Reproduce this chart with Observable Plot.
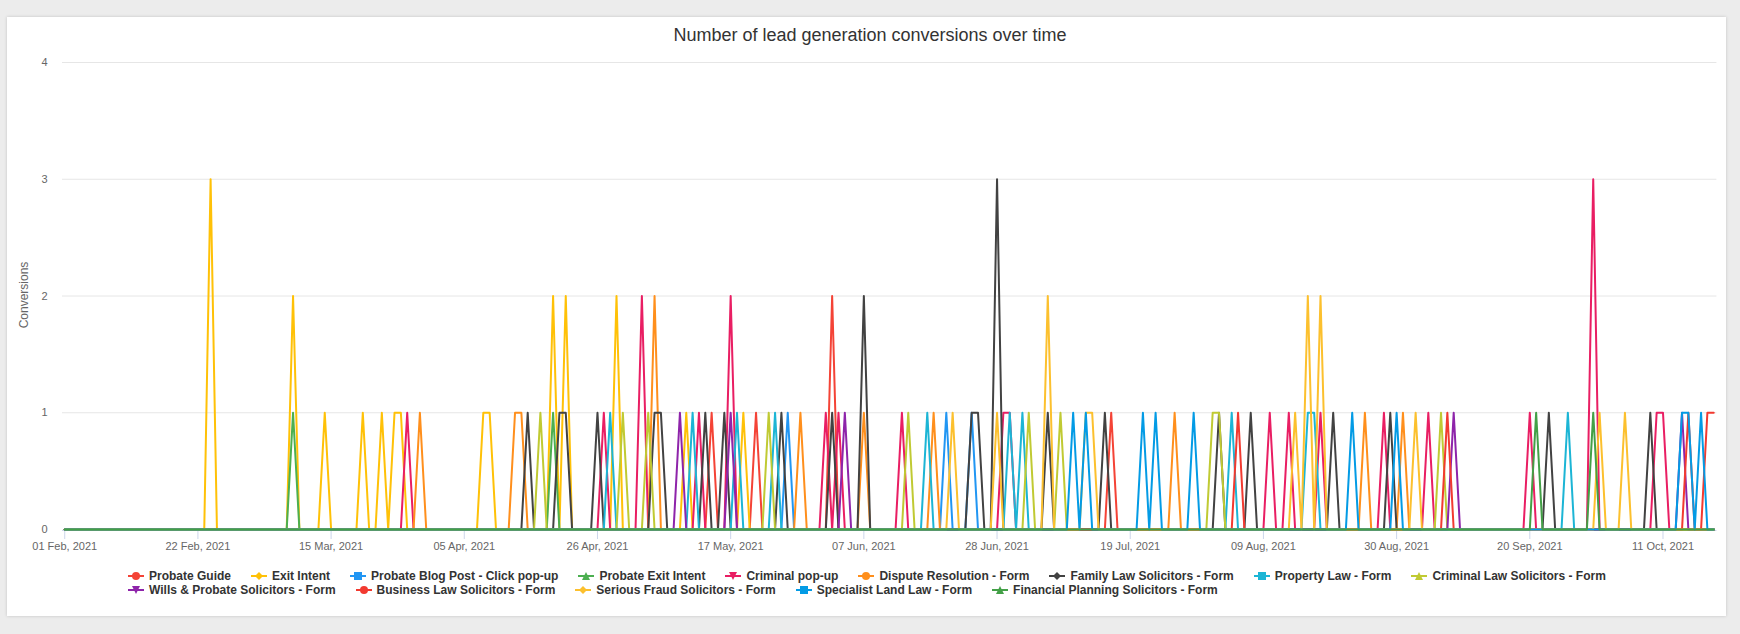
<!DOCTYPE html>
<html><head><meta charset="utf-8">
<script src="https://cdn.jsdelivr.net/npm/d3@7"></script>
<script src="https://cdn.jsdelivr.net/npm/@observablehq/plot@0.6"></script>
<style>
body{margin:0;background:#ececec;font-family:"Liberation Sans",Arial,sans-serif;}
#card{position:absolute;left:7px;top:17px;width:1719px;height:599px;background:#fff;box-shadow:0 0 3px rgba(0,0,0,.18);}
#title{position:absolute;left:0;width:1740px;top:25px;text-align:center;font-size:18px;color:#333;}
#chart{position:absolute;left:0;top:50px;}
#ylabel{position:absolute;left:24px;top:295px;transform:translate(-50%,-50%) rotate(-90deg);font-size:12px;color:#666;white-space:nowrap;}
#legend{position:absolute;left:128px;top:569px;font-size:12px;font-weight:bold;color:#333;}
.row{display:flex;height:14px;margin-bottom:0px;}
.item{display:inline-flex;align-items:center;margin-right:20px;white-space:nowrap;}
.item svg{margin-right:5px;}
</style></head>
<body>
<div id="card"></div>
<div id="title">Number of lead generation conversions over time</div>
<div id="chart"></div>
<div id="ylabel">Conversions</div>
<div id="legend"></div>
<script>
const seriesNames = ["Probate Guide","Exit Intent","Probate Blog Post - Click pop-up","Probate Exit Intent","Criminal pop-up","Dispute Resolution - Form","Family Law Solicitors - Form","Property Law - Form","Criminal Law Solicitors - Form","Wills & Probate Solicitors - Form","Business Law Solicitors - Form","Serious Fraud Solicitors - Form","Specialist Land Law - Form","Financial Planning Solicitors - Form"];
const seriesColors = ["#f44336","#ffc107","#2196f3","#4caf50","#e91e63","#ff8f1c","#424242","#1cb5d5","#c0ca33","#8e24aa","#f23a30","#fcc02e","#039be5","#43a047"];
const seriesSymbols = ["circle","diamond","square","triangle","triangle-down","circle","diamond","square","triangle","triangle-down","circle","diamond","square","triangle"];

// non-zero daily values (all other days are 0)
const probateGuide = [["2021-05-14",1],["2021-05-21",1],["2021-06-02",2],["2021-07-16",1]];
const exitIntent = [["2021-02-24",3],["2021-03-09",2],["2021-03-14",1],["2021-03-20",1],["2021-03-23",1],["2021-03-25",1],["2021-03-26",1],["2021-04-08",1],["2021-04-09",1],["2021-04-19",2],["2021-04-21",2],["2021-04-29",2],["2021-05-10",1],["2021-05-19",1]];
const probateBlogPost = [["2021-05-26",1],["2021-06-20",1],["2021-06-24",1]];
const probateExitIntent = [["2021-03-09",1],["2021-04-19",1]];
const criminalPopup = [["2021-03-27",1],["2021-04-27",1],["2021-05-03",2],["2021-05-12",1],["2021-05-17",2],["2021-06-01",1],["2021-06-03",1],["2021-06-13",1],["2021-06-29",1],["2021-06-30",1],["2021-08-10",1],["2021-08-13",1],["2021-08-18",1],["2021-08-28",1],["2021-09-04",1],["2021-09-20",1],["2021-09-30",3],["2021-10-10",1],["2021-10-11",1]];
const disputeResolution = [["2021-03-29",1],["2021-04-13",1],["2021-04-14",1],["2021-05-05",2],["2021-05-28",1],["2021-06-07",1],["2021-06-18",1],["2021-07-26",1],["2021-08-25",1],["2021-08-31",1]];
const familyLaw = [["2021-04-15",1],["2021-04-20",1],["2021-04-21",1],["2021-04-26",1],["2021-05-05",1],["2021-05-06",1],["2021-05-13",1],["2021-05-16",1],["2021-05-25",1],["2021-06-02",1],["2021-06-07",2],["2021-06-24",1],["2021-06-25",1],["2021-06-28",3],["2021-07-06",1],["2021-07-15",1],["2021-08-02",1],["2021-08-07",1],["2021-08-20",1],["2021-08-29",1],["2021-09-23",1],["2021-10-09",1]];
const propertyLaw = [["2021-04-28",1],["2021-05-11",1],["2021-05-18",1],["2021-05-24",1],["2021-06-17",1],["2021-06-30",1],["2021-07-02",1],["2021-08-04",1],["2021-08-16",1],["2021-08-17",1],["2021-09-26",1]];
const criminalLaw = [["2021-04-17",1],["2021-04-30",1],["2021-05-04",1],["2021-05-23",1],["2021-06-14",1],["2021-07-03",1],["2021-07-08",1],["2021-08-01",1],["2021-08-02",1],["2021-09-06",1]];
const willsProbate = [["2021-05-09",1],["2021-05-17",1],["2021-06-04",1],["2021-09-08",1],["2021-10-14",1]];
const businessLaw = [["2021-08-05",1],["2021-09-07",1],["2021-10-15",1],["2021-10-18",1],["2021-10-19",1]];
const seriousFraud = [["2021-06-21",1],["2021-06-28",1],["2021-07-06",2],["2021-07-12",1],["2021-07-13",1],["2021-08-14",1],["2021-08-16",2],["2021-08-18",2],["2021-09-02",1],["2021-10-01",1],["2021-10-05",1]];
const specialistLandLaw = [["2021-07-10",1],["2021-07-12",1],["2021-07-21",1],["2021-07-23",1],["2021-07-29",1],["2021-08-23",1],["2021-08-30",1],["2021-10-14",1],["2021-10-15",1],["2021-10-17",1]];
const financialPlanning = [["2021-09-21",1],["2021-09-30",1]];

const seriesValues = [probateGuide,exitIntent,probateBlogPost,probateExitIntent,criminalPopup,disputeResolution,familyLaw,propertyLaw,criminalLaw,willsProbate,businessLaw,seriousFraud,specialistLandLaw,financialPlanning];

const firstDay = "2021-02-01", lastDay = "2021-10-19";
const xTickLabels = ["01 Feb, 2021","22 Feb, 2021","15 Mar, 2021","05 Apr, 2021","26 Apr, 2021","17 May, 2021","07 Jun, 2021","28 Jun, 2021","19 Jul, 2021","09 Aug, 2021","30 Aug, 2021","20 Sep, 2021","11 Oct, 2021"];
const yTicks = [0,1,2,3,4];

const parse = d3.utcParse("%Y-%m-%d");
const fmtIso = d3.utcFormat("%Y-%m-%d");
const tickParse = d3.utcParse("%d %b, %Y");
const days = d3.utcDays(parse(firstDay), d3.utcDay.offset(parse(lastDay), 1));
const rows = [];
seriesNames.forEach((name, i) => {
  const m = new Map(seriesValues[i]);
  for (const d of days) rows.push({series: name, date: d, value: m.get(fmtIso(d)) ?? 0});
});
const xTicks = xTickLabels.map(tickParse);
const x0 = new Date(+parse(firstDay) - 0.35 * 864e5);
const x1 = new Date(+parse(lastDay) + 0.5 * 864e5);

const chart = Plot.plot({
  width: 1740, height: 510,
  marginLeft: 62, marginRight: 23.6, marginTop: 12, marginBottom: 31,
  style: {fontFamily: "Liberation Sans, Arial, sans-serif", fontSize: "11px", background: "transparent"},
  x: {type: "utc", domain: [x0, x1]},
  y: {domain: [0, 4]},
  color: {domain: seriesNames, range: seriesColors},
  marks: [
    Plot.gridY(yTicks.slice(1), {stroke: "#e6e6e6", strokeOpacity: 1}),
    Plot.ruleY([0], {stroke: "#ccd6eb", dy: 1}),
    Plot.axisY(yTicks, {tickSize: 0, tickPadding: 15, fill: "#666", label: null, fontSize: 11, tickFormat: d3.format("d")}),
    Plot.axisX(xTicks, {tickSize: 9, tickPadding: 3, stroke: "#ccd6eb", fill: "#666", label: null, fontSize: 11, tickFormat: d3.utcFormat("%d %b, %Y"), dy: 1}),
    Plot.line(rows, {x: "date", y: "value", z: "series", stroke: "series", strokeWidth: 2})
  ]
});
document.getElementById("chart").appendChild(chart);

// legend
const symbolPath = {
  "circle": '<circle cx="8" cy="6" r="4"/>',
  "diamond": '<path d="M8 2L12 6L8 10L4 6Z"/>',
  "square": '<rect x="4" y="2" width="8" height="8"/>',
  "triangle": '<path d="M8 2L12 10L4 10Z"/>',
  "triangle-down": '<path d="M4 2L12 2L8 10Z"/>'
};
const legend = document.getElementById("legend");
const rowsSplit = [seriesNames.slice(0, 9), seriesNames.slice(9)];
let idx = 0;
for (const r of rowsSplit) {
  const row = document.createElement("div"); row.className = "row";
  for (const name of r) {
    const c = seriesColors[idx], s = seriesSymbols[idx]; idx++;
    const it = document.createElement("span"); it.className = "item";
    it.innerHTML = `<svg width="16" height="12"><line x1="0" x2="16" y1="6" y2="6" stroke="${c}" stroke-width="2"/><g fill="${c}">${symbolPath[s]}</g></svg><span>${name.replace("&","&amp;")}</span>`;
    row.appendChild(it);
  }
  legend.appendChild(row);
}
</script>
</body></html>
